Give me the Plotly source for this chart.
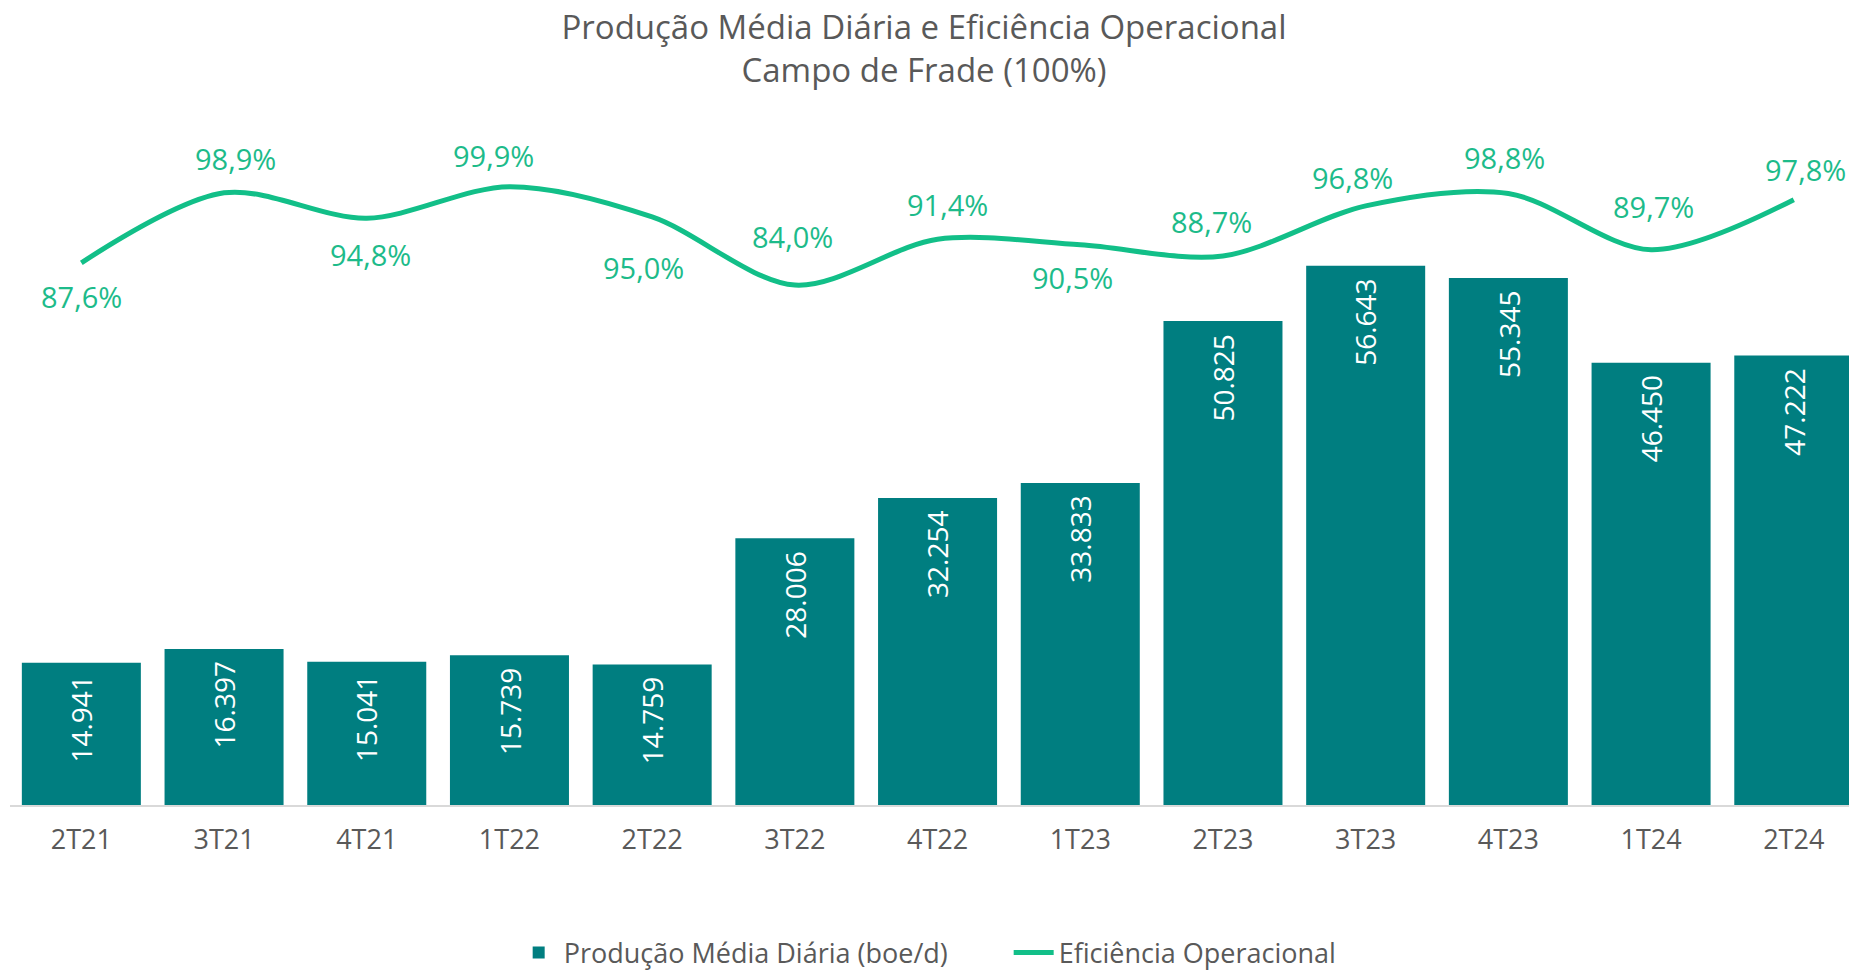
import plotly.graph_objects as go

# ---- data ----
categories = ["2T21", "3T21", "4T21", "1T22", "2T22", "3T22", "4T22",
              "1T23", "2T23", "3T23", "4T23", "1T24", "2T24"]
producao = [14941, 16397, 15041, 15739, 14759, 28006, 32254,
            33833, 50825, 56643, 55345, 46450, 47222]
eficiencia = [87.6, 98.9, 94.8, 99.9, 95.0, 84.0, 91.4,
              90.5, 88.7, 96.8, 98.8, 89.7, 97.8]

# label offsets (style only): (xshift, yshift) in px
eff_label_shift = [(0, -34), (11, 34), (4, -36), (-16, 31), (-9, -51), (-2, 49), (10, 35),
                   (-8, -33), (-11, 34), (-13, 28), (-4, 36), (2, 43), (12, 30)]

BAR = "#007E80"
LINE = "#12BF88"
LBL = "#1DBB8A"
GREY = "#595959"
FONT = "Open Sans"

# page body has an 8px margin: the figure is sized/positioned to compensate
W, H = 1849, 962

fig = go.Figure()
fig.add_trace(go.Bar(
    x=categories, y=producao, name="Produção Média Diária (boe/d)",
    marker=dict(color=BAR, line=dict(width=0)), yaxis="y",
))
fig.add_trace(go.Scatter(
    x=categories, y=eficiencia, name="Eficiência Operacional",
    mode="lines", line=dict(color=LINE, width=5, shape="spline", smoothing=0.9),
    yaxis="y2",
))

annotations = []
for c, v in zip(categories, producao):
    annotations.append(dict(
        x=c, y=v, xref="x", yref="y", text=f"{v:,}".replace(",", "."),
        textangle=-90, showarrow=False, yanchor="top", xanchor="center",
        yshift=-11, font=dict(family=FONT, size=28, color="white"),
    ))
for c, v, (dx, dy) in zip(categories, eficiencia, eff_label_shift):
    annotations.append(dict(
        x=c, y=v, xref="x", yref="y2", text=f"{v:.1f}%".replace(".", ","),
        showarrow=False, xshift=dx, yshift=dy,
        font=dict(family=FONT, size=29, color=LBL),
    ))

fig.update_layout(
    width=W, height=H,
    margin=dict(l=1.6, r=0, t=92, b=165),
    paper_bgcolor="white", plot_bgcolor="white",
    separators=",.",
    font=dict(family=FONT, color=GREY),
    title=dict(
        text="Produção Média Diária e Eficiência Operacional<br>Campo de Frade (100%)",
        x=916 / W, xref="container", xanchor="center",
        y=1 - 31 / H, yref="container", yanchor="middle",
        font=dict(family=FONT, size=33, color=GREY),
    ),
    bargap=0.166,
    xaxis=dict(
        type="category", range=[-0.5, 12.443],
        showline=True, linecolor="#D9D9D9", linewidth=2,
        showgrid=False, ticks="", ticklabelstandoff=10,
        tickfont=dict(family=FONT, size=27, color=GREY),
    ),
    yaxis=dict(range=[0, 74047], visible=False, showgrid=False),
    yaxis2=dict(range=[0, 113.9], overlaying="y", side="right",
                visible=False, showgrid=False),
    legend=dict(
        orientation="h", x=0.5407, xanchor="center", xref="paper",
        y=1 - 945 / H, yref="container", yanchor="middle",
        font=dict(family=FONT, size=27, color=GREY),
        itemwidth=40, traceorder="normal", entrywidth=440,
    ),
    annotations=annotations,
)

fig.write_html("out.html")
